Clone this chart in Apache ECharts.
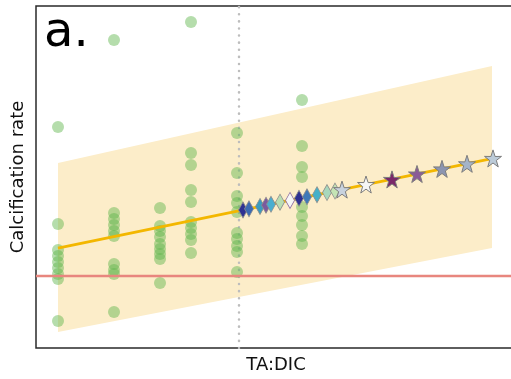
<!DOCTYPE html>
<html>
<head>
<meta charset="utf-8">
<script src="https://cdn.jsdelivr.net/npm/echarts@6/dist/echarts.min.js"></script>
<style>
  html, body { margin: 0; padding: 0; background: #fff; }
  #chart { width: 511px; height: 379px; }
</style>
</head>
<body>
<div id="chart"></div>
<script>
// Observed calcification rates, grouped by TA:DIC treatment level
const treatmentX = [0.22, 0.78, 1.24, 1.55, 2.01, 2.66];
const rates1 = [4.97, 1.73, 0.87, 0.67, 0.47, 0.27, 0.07, -0.10, -1.50];
const rates2 = [7.87, 2.10, 1.90, 1.70, 1.50, 1.33, 0.40, 0.20, 0.07, -1.20];
const rates3 = [2.27, 1.67, 1.50, 1.30, 1.07, 0.90, 0.73, 0.57, -0.23];
const rates4 = [8.47, 4.10, 3.70, 2.87, 2.47, 1.80, 1.60, 1.40, 1.20, 0.77];
const rates5 = [4.77, 3.43, 2.67, 2.43, 2.13, 1.43, 1.23, 1.00, 0.80, 0.13];
const rates6 = [5.87, 4.33, 3.63, 3.30, 2.30, 2.00, 1.70, 1.33, 1.07];
const ratesByTreatment = [rates1, rates2, rates3, rates4, rates5, rates6];

// Fitted regression line and its prediction band
const fitLine = [[0.22, 0.93], [4.57, 3.92]];
const bandUpper = [[0.22, 3.77], [4.56, 7.00]];
const bandLower = [[0.22, -1.87], [4.56, 0.93]];

// Reference levels
const zeroRate = 0;
const currentTaDic = 2.03;

// Projected values (diamonds and stars along the fit)
const diamondX = [2.07, 2.13, 2.24, 2.30, 2.35, 2.44, 2.54, 2.63, 2.71, 2.81, 2.91, 2.99];
const diamondY = [2.20, 2.24, 2.32, 2.36, 2.39, 2.46, 2.52, 2.59, 2.64, 2.71, 2.78, 2.83];
const diamondColors = ['#2e3192', '#3c6ab2', '#3a9cc0', '#7b5a9e', '#4aaed0', '#b9deb2',
                       '#f6f6f6', '#2e3192', '#3f79b8', '#45b0c8', '#a8d8bc', '#c4e4b4'];
const starX = [3.06, 3.30, 3.56, 3.81, 4.06, 4.31, 4.57];
const starY = [2.88, 3.05, 3.22, 3.40, 3.57, 3.74, 3.92];
const starColors = ['#c8d2de', '#f6f6f6', '#7b2869', '#8a5c96', '#8c95b0', '#a5b4c8', '#bccbd8'];

const X_MIN = 0, X_MAX = 4.8, Y_MIN = -2.4, Y_MAX = 9.0;

const STAR = 'path://M50,0 L61.8,35.1 L97.6,34.5 L68.8,56.2 L79.4,90.5 L50,69.8 L20.6,90.5 L31.2,56.2 L2.4,34.5 L38.2,35.1 Z';

const dots = [];
ratesByTreatment.forEach((arr, i) => arr.forEach(v => dots.push([treatmentX[i], v])));

const diamonds = diamondX.map((x, i) => ({
  value: [x, diamondY[i]],
  itemStyle: { color: diamondColors[i], borderColor: i === 6 ? '#8a6aa0' : '#8c8c8c' }
}));
const stars = starX.map((x, i) => ({
  value: [x, starY[i]],
  itemStyle: { color: starColors[i] }
}));

const chart = echarts.init(document.getElementById('chart'), null, { renderer: 'canvas' });

chart.setOption({
  animation: false,
  backgroundColor: '#ffffff',
  textStyle: { fontFamily: 'DejaVu Sans' },
  grid: {
    left: 36, top: 6, width: 480, height: 342,
    outerBoundsMode: 'none', containLabel: false,
    show: true, borderColor: '#2a2a2a', borderWidth: 1.5, backgroundColor: 'transparent'
  },
  xAxis: {
    type: 'value', min: X_MIN, max: X_MAX,
    name: 'TA:DIC', nameLocation: 'middle', nameGap: 8,
    nameTextStyle: { fontSize: 18, color: '#111', fontFamily: 'DejaVu Sans' },
    axisLine: { show: false }, axisTick: { show: false },
    axisLabel: { show: false }, splitLine: { show: false }
  },
  yAxis: {
    type: 'value', min: Y_MIN, max: Y_MAX,
    name: 'Calcification rate', nameLocation: 'middle', nameGap: 9, nameRotate: 90,
    nameTextStyle: { fontSize: 18, color: '#111', fontFamily: 'DejaVu Sans' },
    axisLine: { show: false }, axisTick: { show: false },
    axisLabel: { show: false }, splitLine: { show: false }
  },
  graphic: [{
    type: 'text', left: 44, top: 10, z: 100,
    style: { text: 'a.', font: 'normal 48px "DejaVu Sans"', fill: '#000' }
  }],
  series: [
    {
      // prediction band
      type: 'custom', z: 1, silent: true,
      data: [0],
      renderItem: (params, api) => {
        const pts = [
          api.coord(bandLower[0]), api.coord(bandLower[1]),
          api.coord(bandUpper[1]), api.coord(bandUpper[0])
        ];
        return { type: 'polygon', shape: { points: pts }, style: { fill: '#fcedc9' } };
      }
    },
    {
      // vertical reference at present-day TA:DIC
      type: 'line', z: 2, silent: true, symbol: 'none',
      data: [[currentTaDic, Y_MIN], [currentTaDic, Y_MAX]],
      lineStyle: { color: '#bdbdbd', width: 2.5, type: [0.1, 7], cap: 'round' }
    },
    {
      type: 'scatter', z: 3, silent: true,
      data: dots, symbol: 'circle', symbolSize: 12,
      itemStyle: { color: 'rgba(95,182,75,0.58)' }
    },
    {
      // zero calcification
      type: 'line', z: 4, silent: true, symbol: 'none',
      data: [[X_MIN, zeroRate], [X_MAX, zeroRate]],
      lineStyle: { color: '#e8867e', width: 2.5 }
    },
    {
      type: 'line', z: 5, silent: true, symbol: 'none',
      data: fitLine,
      lineStyle: { color: '#f3b700', width: 3 }
    },
    {
      type: 'scatter', z: 6, silent: true,
      data: diamonds, symbol: 'diamond', symbolSize: [9, 16],
      itemStyle: { borderWidth: 0.8, opacity: 1 }
    },
    {
      type: 'scatter', z: 7, silent: true,
      data: stars, symbol: STAR, symbolSize: 17,
      itemStyle: { borderColor: '#7d7d7d', borderWidth: 1, opacity: 1 }
    }
  ]
});
</script>
</body>
</html>
